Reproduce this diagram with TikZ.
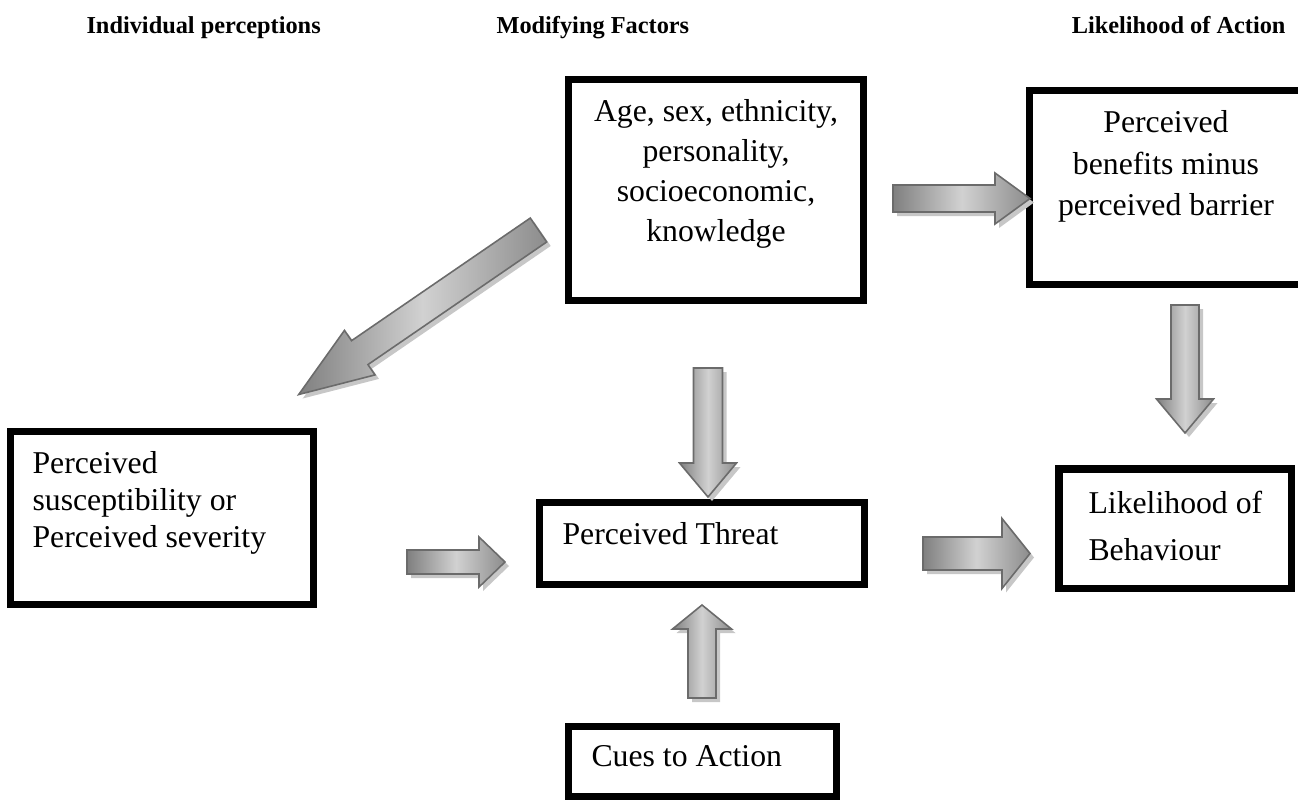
\documentclass[tikz,border=0pt]{standalone}
\usepackage{fontspec}
\setmainfont{Liberation Serif}
\usetikzlibrary{calc}

\newcommand\pxu{0.378pt}
% block arrow from #1 to #2: shaft, head width, head length (px)
\newcommand\blockarrow[5]{%
  \path let \p1=($(#2)-(#1)$) in
    \pgfextra{\pgfmathsetmacro\barang{atan2(\y1,\x1)}%
      \pgfmathsetmacro\barlen{veclen(\x1,\y1)/0.378}%
      \global\let\barang\barang \global\let\barlen\barlen};
  \begin{scope}[shift={($(#1)+(4,4)$)}, rotate=\barang]
    \fill[arrowshadow] (0,-#3/2) -- ({\barlen-#5},-#3/2) -- ({\barlen-#5},-#4/2) -- (\barlen,0)
      -- ({\barlen-#5},#4/2) -- ({\barlen-#5},#3/2) -- (0,#3/2) -- cycle;
  \end{scope}
  \begin{scope}[shift={(#1)}, rotate=\barang]
    \draw[arrowbody] (0,-#3/2) -- ({\barlen-#5},-#3/2) -- ({\barlen-#5},-#4/2) -- (\barlen,0)
      -- ({\barlen-#5},#4/2) -- ({\barlen-#5},#3/2) -- (0,#3/2) -- cycle;
  \end{scope}}

\tikzset{
  box/.style={draw, line width=2.5pt, inner sep=0pt},
  boxsize/.style 2 args={minimum width=#1*\pxu-2.5pt, minimum height=#2*\pxu-2.5pt},
  txt/.style={inner sep=0pt, font=\fontsize{12}{15.1}\selectfont},
  head/.style={inner sep=0pt, font=\bfseries\fontsize{9.2}{11}\selectfont},
  arrowbody/.style={draw=black!58, line width=0.6pt, left color=black!50, right color=black!45, middle color=black!18},
  arrowshadow/.style={fill=black!22},
}

\begin{document}
\begin{tikzpicture}[x=0.378pt, y=-0.378pt]
    \useasboundingbox (0,0) rectangle (1298,802);

    % headings
    \node[head, anchor=base west] (hind) at (86,33) {Individual perceptions};
    \node[head, anchor=base west] (hmod) at (496,33) {Modifying Factors};
    \node[head, anchor=base east] (hlik) at (1286,33) {Likelihood of Action};

    % boxes
    \node[box, boxsize={302}{228}] (age) at (716,190) {};
    \node[box, boxsize={280}{201}] (ben) at (1166,187.5) {};
    \node[box, boxsize={310}{180}] (sus) at (162,518) {};
    \node[box, boxsize={332}{89}] (thr) at (702,543.5) {};
    \node[box, boxsize={240}{127}] (lik) at (1175,528.5) {};
    \node[box, boxsize={275}{77}] (cue) at (702.5,761.5) {};
    \draw[line width=0.75pt] ($(lik.north west)+(6.5,6.5)$) rectangle ($(lik.south east)+(-6.5,-6.5)$);

    \node[txt, anchor=north, align=center] (agetxt) at (716,99)
        {Age, sex, ethnicity,\\personality,\\socioeconomic,\\knowledge};
    \node[txt, anchor=north, align=center, font=\fontsize{12}{15.7}\selectfont] (bentxt) at (1166,110)
        {Perceived\\benefits minus\\perceived barrier};
    \node[txt, anchor=north west, align=left, font=\fontsize{12}{14}\selectfont] (sustxt) at (32,451)
        {Perceived\\susceptibility or\\Perceived severity};
    \node[txt, anchor=north west] (thrtxt) at (562,522) {Perceived Threat};
    \node[txt, anchor=north west, align=left, font=\fontsize{12}{17.7}\selectfont] (liktxt) at (1088,491)
        {Likelihood of\\Behaviour};
    \node[txt, anchor=north west] (cuetxt) at (591,745) {Cues to Action};

    % arrows
    \coordinate (agesw) at (538.5,230);  \coordinate (susne) at (298,395);
    \coordinate (agee) at (893,198.5);   \coordinate (benw) at (1030,198.5);
    \coordinate (bens) at (1185,305);    \coordinate (likn) at (1185,433);
    \coordinate (ages) at (708,368);     \coordinate (thrn) at (708,497);
    \coordinate (cuen) at (702,698);     \coordinate (thrs) at (702,605);
    \coordinate (suse) at (407,562);     \coordinate (thrw) at (505,562);
    \coordinate (thre) at (923,553.5);   \coordinate (likw) at (1030,553.5);

    \blockarrow{agesw}{susne}{29}{54}{74}
    \blockarrow{agee}{benw}{27}{51}{35}
    \blockarrow{bens}{likn}{28}{57}{34}
    \blockarrow{ages}{thrn}{29}{57}{34}
    \blockarrow{cuen}{thrs}{28}{59}{24}
    \blockarrow{suse}{thrw}{24}{50}{26}
    \blockarrow{thre}{likw}{33}{70}{28}
\end{tikzpicture}
\end{document}
